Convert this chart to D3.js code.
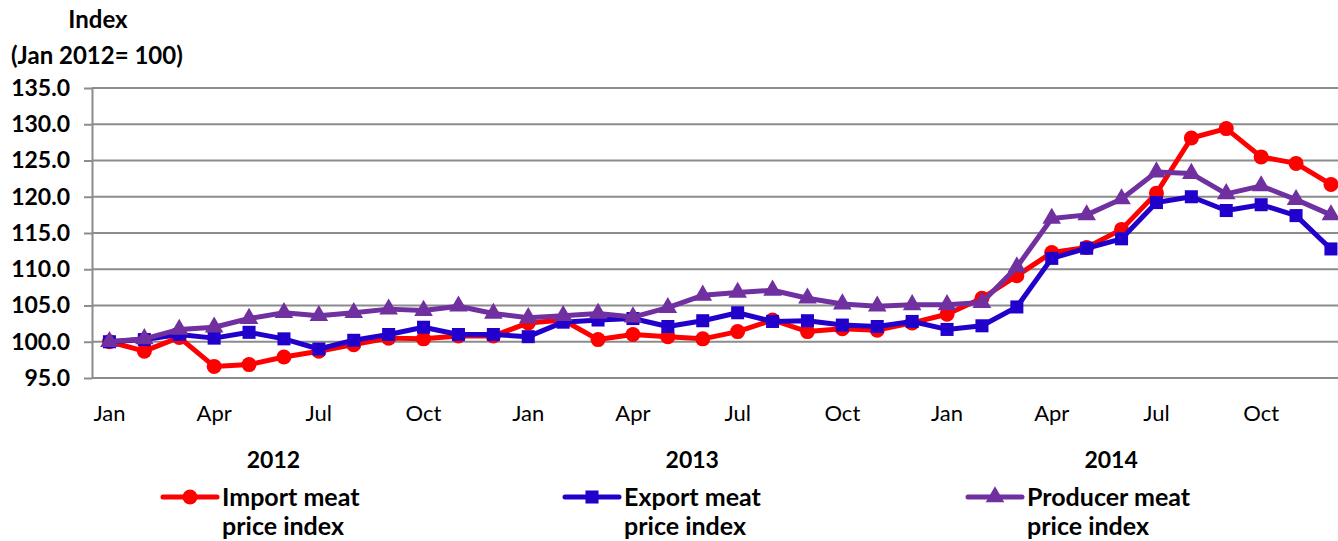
<!DOCTYPE html>
<html lang="en">
<head>
  <meta charset="UTF-8">
  <title>Meat price indices</title>
  <style>
    body { margin: 0; background: #fff; }
    svg { display: block; font-family: Lato, "Open Sans", sans-serif; }
    .grid line { stroke: #8c8c8c; stroke-width: 2; }
    .axis path, .axis line { stroke: #8c8c8c; stroke-width: 2; }
  </style>
</head>
<body>
  <script src="https://d3js.org/d3.v7.min.js"></script>
  <script>
    // months Jan 2012 .. Dec 2014
    const monthNames = ['Jan','Feb','Mar','Apr','May','Jun','Jul','Aug','Sep','Oct','Nov','Dec'];
    const years = ['2012', '2013', '2014'];
    const yTicks = [95, 100, 105, 110, 115, 120, 125, 130, 135];

    const importIndex = [100.0, 98.7, 100.6, 96.6, 96.85, 97.9, 98.7, 99.6, 100.5, 100.4, 100.8, 100.8,
                         102.6, 103.0, 100.3, 101.0, 100.7, 100.4, 101.4, 103.0, 101.4, 101.8, 101.6, 102.6,
                         103.8, 106.0, 109.1, 112.3, 113.0, 115.5, 120.5, 128.1, 129.4, 125.5, 124.6, 121.7];
    const exportIndex = [100.0, 100.3, 101.0, 100.5, 101.3, 100.4, 99.0, 100.2, 101.0, 102.0, 101.0, 101.0,
                         100.7, 102.7, 103.0, 103.2, 102.1, 102.9, 104.0, 102.8, 102.9, 102.3, 102.1, 102.8,
                         101.7, 102.2, 104.8, 111.5, 112.9, 114.2, 119.2, 120.0, 118.1, 118.9, 117.4, 112.8];
    const producerIndex = [100.0, 100.4, 101.7, 102.0, 103.2, 104.0, 103.6, 104.0, 104.5, 104.3, 104.9, 103.9,
                           103.3, 103.6, 103.9, 103.4, 104.7, 106.4, 106.8, 107.1, 106.0, 105.2, 104.9, 105.1,
                           105.1, 105.4, 110.3, 117.0, 117.5, 119.7, 123.4, 123.2, 120.4, 121.5, 119.6, 117.5];

    const series = [
      {name: ['Import meat', 'price index'], values: importIndex, color: '#ff0000', symbol: 'circle'},
      {name: ['Export meat', 'price index'], values: exportIndex, color: '#2200cc', symbol: 'square'},
      {name: ['Producer meat', 'price index'], values: producerIndex, color: '#7030a0', symbol: 'triangle'}
    ];

    const WIDTH = 1338, HEIGHT = 541;
    const margin = {top: 88, left: 92, bottom: 163};
    const step = 34.9;

    const months = d3.range(years.length * 12);
    const x = d3.scaleBand().domain(months).range([margin.left, margin.left + months.length * step]);
    const cx = i => x(i) + x.bandwidth() / 2;
    const y = d3.scaleLinear().domain([95, 135]).range([HEIGHT - margin.bottom, margin.top]);

    const svg = d3.select('body').append('svg')
      .attr('width', WIDTH)
      .attr('height', HEIGHT);

    // axis title
    svg.append('text').attr('x', 98).attr('y', 28).attr('text-anchor', 'middle')
      .attr('font-weight', 'bold').attr('font-size', 24).text('Index');
    svg.append('text').attr('x', 11).attr('y', 64)
      .attr('font-weight', 'bold').attr('font-size', 24).text('(Jan 2012= 100)');

    // gridlines
    svg.append('g').attr('class', 'grid')
      .selectAll('line')
      .data(yTicks)
      .join('line')
        .attr('x1', margin.left).attr('x2', x.range()[1])
        .attr('y1', d => y(d)).attr('y2', d => y(d));

    // y axis
    const yAxis = d3.axisLeft(y).tickValues(yTicks).tickSize(8).tickSizeOuter(0).tickPadding(14)
      .tickFormat(d3.format('.1f'));
    svg.append('g').attr('class', 'axis')
      .attr('transform', `translate(${margin.left},0)`)
      .call(yAxis)
      .call(g => g.selectAll('text').attr('font-size', 23).attr('font-weight', 'bold')
        .attr('fill', '#000').attr('font-family', 'Lato'));

    // x month labels (every third month)
    svg.append('g')
      .selectAll('text')
      .data(months.filter(i => i % 3 === 0))
      .join('text')
        .attr('x', i => cx(i))
        .attr('y', 421)
        .attr('text-anchor', 'middle')
        .attr('font-size', 22)
        .text(i => monthNames[i % 12]);

    // year labels
    svg.append('g')
      .selectAll('text')
      .data(years)
      .join('text')
        .attr('x', (d, i) => cx(i * 12 + 4) + 0.7 * step)
        .attr('y', 468)
        .attr('text-anchor', 'middle')
        .attr('font-size', 23)
        .attr('font-weight', 'bold')
        .text(d => d);

    function drawMarker (sel, s, px, py) {
      if (s.symbol === 'circle') {
        sel.append('circle').attr('cx', px).attr('cy', py).attr('r', 7.5).attr('fill', s.color);
      } else {
        const type = s.symbol === 'square' ? d3.symbolSquare : d3.symbolTriangle;
        const size = s.symbol === 'square' ? 170 : 150;
        sel.append('path')
          .attr('d', d3.symbol().type(type).size(size)())
          .attr('transform', `translate(${px},${py})`)
          .attr('fill', s.color);
      }
    }

    const line = d3.line().x((d, i) => cx(i)).y(d => y(d));

    series.forEach(s => {
      const g = svg.append('g');
      g.append('path')
        .attr('d', line(s.values))
        .attr('fill', 'none')
        .attr('stroke', s.color)
        .attr('stroke-width', 5)
        .attr('stroke-linejoin', 'round');
      s.values.forEach((v, i) => drawMarker(g, s, cx(i), y(v)));
    });

    // legend
    const legendX = [163, 565, 968];
    series.forEach((s, i) => {
      const g = svg.append('g').attr('transform', `translate(${legendX[i]},497)`);
      g.append('line').attr('x1', 0).attr('x2', 54).attr('y1', 0).attr('y2', 0)
        .attr('stroke', s.color).attr('stroke-width', 5).attr('stroke-linecap', 'round');
      drawMarker(g, s, 27, 0);
      g.selectAll('text')
        .data(s.name)
        .join('text')
          .attr('x', 59)
          .attr('y', (d, j) => 9 + j * 29)
          .attr('font-size', 25)
          .attr('font-weight', 'bold')
          .text(d => d);
    });
  </script>
</body>
</html>
